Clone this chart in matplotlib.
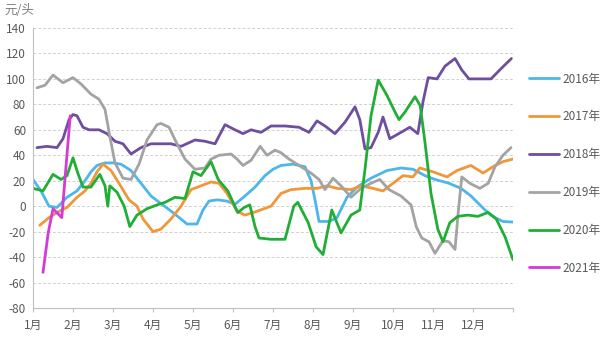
import matplotlib
matplotlib.use("Agg")
import matplotlib.pyplot as plt

plt.rcParams['font.family'] = ['Noto Sans CJK SC', 'DejaVu Sans']

# x in months since 1 Jan (0 = 1月 tick, 12 = end of year)
months = ["1月", "2月", "3月", "4月", "5月", "6月", "7月", "8月", "9月", "10月", "11月", "12月"]
y_ticks = [-80, -60, -40, -20, 0, 20, 40, 60, 80, 100, 120, 140]

x16 = [0, 0.2, 0.4, 0.6, 0.85, 1.1, 1.3, 1.45, 1.6, 1.8, 2.0, 2.2, 2.45, 2.7, 2.95, 3.2, 3.5, 3.85, 4.1, 4.25,
       4.4, 4.6, 4.85, 5.05, 5.3, 5.55, 5.8, 6.0, 6.2, 6.5, 6.8, 6.95, 7.05, 7.15, 7.4, 7.6, 7.85, 8.1, 8.45, 8.85,
       9.2, 9.5, 9.8, 10.05, 10.4, 10.7, 10.95, 11.3, 11.55, 11.75, 12.0]
y16 = [21, 12, 0, -1, 7, 12, 20, 27, 32, 34, 34, 33, 28, 18, 8, 2, -5, -14, -14, -3,
       4, 5, 4, 1.5, 8, 15, 24, 29, 32, 33, 31, 20, 5, -12, -12, -9, 7, 15, 22, 28,
       30, 29, 24, 21, 18, 14, 8, -3, -9, -12, -12.5]

x17 = [0.17, 0.4, 0.65, 0.85, 1.1, 1.3, 1.45, 1.6, 1.75, 1.95, 2.15, 2.4, 2.6, 2.75, 3.0, 3.2, 3.45, 3.7, 3.95, 4.2,
       4.45, 4.65, 4.85, 5.1, 5.3, 5.6, 5.95, 6.2, 6.45, 6.8, 7.1, 7.35, 7.6, 7.95, 8.2, 8.5, 8.75, 9.0, 9.25, 9.5,
       9.67, 10.0, 10.35, 10.6, 10.95, 11.25, 11.5, 11.75, 12.0]
y17 = [-15, -9, -4, -1, 7, 12, 18, 27, 33, 28, 18, 5, 0, -10, -20, -18, -10, 0, 13, 16,
       19, 18, 10, -4, -7, -4, 0, 10, 13, 14, 14, 16, 14, 13, 16, 14, 12, 18, 24, 23,
       30, 27, 23, 28, 32, 26, 31, 35, 37]

x18 = [0.1, 0.35, 0.6, 0.75, 0.9, 1.0, 1.1, 1.25, 1.4, 1.65, 1.85, 2.05, 2.25, 2.45, 2.7, 2.95, 3.45, 3.7, 4.05, 4.3,
       4.55, 4.8, 5.05, 5.25, 5.45, 5.7, 5.95, 6.3, 6.65, 6.9, 7.1, 7.3, 7.55, 7.8, 8.05, 8.17, 8.3, 8.45, 8.63, 8.75,
       8.92, 9.2, 9.42, 9.62, 9.75, 9.88, 10.1, 10.3, 10.55, 10.72, 10.9, 11.2, 11.45, 11.7, 11.96]
y18 = [46, 47, 46, 53, 68, 72, 71, 62, 60, 60, 57, 51, 49, 41, 46, 49, 49, 47, 52, 51,
       49, 64, 60, 57, 60, 58, 63, 63, 62, 58, 67, 63, 57, 66, 78, 68, 45, 46, 58, 70,
       53, 58, 62, 57, 82, 101, 100, 110, 116, 107, 100, 100, 100, 108, 116]

x19 = [0.1, 0.3, 0.5, 0.75, 1.0, 1.2, 1.45, 1.65, 1.8, 1.92, 2.05, 2.25, 2.45, 2.65, 2.85, 3.1, 3.2, 3.4, 3.6, 3.8,
       4.05, 4.3, 4.45, 4.65, 4.95, 5.1, 5.25, 5.45, 5.68, 5.85, 6.05, 6.2, 6.4, 6.65, 6.95, 7.15, 7.3, 7.5, 7.7, 7.95,
       8.2, 8.45, 8.67, 8.9, 9.2, 9.45, 9.58, 9.72, 9.9, 10.05, 10.25, 10.4, 10.55, 10.63, 10.72, 10.92, 11.17, 11.38,
       11.55, 11.75, 11.95]
y19 = [93, 95, 103, 97, 101, 96, 88, 84, 76, 55, 34, 22, 21, 33, 52, 64, 65, 62, 49, 37,
       29, 30, 37, 40, 41, 37, 32, 36, 47, 40, 44, 42, 37, 32, 26, 21, 13, 22, 16, 7,
       14, 18, 21, 13, 8, 1, -16, -25, -28, -37, -27, -28, -34, -5, 23, 18, 14, 18,
       31, 40, 46]

x20 = [0.0, 0.25, 0.5, 0.7, 0.85, 1.0, 1.12, 1.25, 1.45, 1.67, 1.8, 1.87, 1.92, 2.1, 2.28, 2.42, 2.6, 2.85, 3.1, 3.3,
       3.55, 3.8, 4.0, 4.2, 4.45, 4.63, 4.87, 5.12, 5.28, 5.42, 5.55, 5.65, 5.95, 6.3, 6.52, 6.62, 6.88, 7.08, 7.25, 7.47,
       7.7, 7.95, 8.17, 8.3, 8.45, 8.63, 8.85, 9.05, 9.15, 9.3, 9.55, 9.68, 9.8, 9.95, 10.12, 10.25, 10.42, 10.62,
       10.87, 11.12, 11.37, 11.58, 11.8, 12.0]
y20 = [14, 12, 25, 21, 24, 38, 26, 15, 15, 25, 16, 0, 16, 11, 0, -16, -7, -2, 1, 3,
       7, 6, 27, 24, 35, 21, 12, -5, -1, 1, -16, -25, -26, -26, 0, 3, -13, -32, -38, -3,
       -21, -7, -3, 29, 71, 99, 87, 74, 68, 74, 86, 79, 50, 10, -18, -28, -13, -8,
       -7, -8, -5, -10, -24, -42]

x21 = [0.25, 0.38, 0.5, 0.72, 0.93]
y21 = [-52, -21, -2, -9, 71]

series = [
    ("2016年", x16, y16, "#4DB6EA"),
    ("2017年", x17, y17, "#F0973A"),
    ("2018年", x18, y18, "#6E4E9E"),
    ("2019年", x19, y19, "#A3A3A3"),
    ("2020年", x20, y20, "#21AE36"),
    ("2021年", x21, y21, "#D33BD5"),
]

fig = plt.figure(figsize=(6, 3.37), dpi=100)
ax = fig.add_axes([0.055, 0.086, 0.80, 0.831])

for label, xs, ys, col in series:
    ax.plot(xs, ys, color=col, lw=2.0, label=label, solid_joinstyle="round", solid_capstyle="round")

ax.set_xlim(0, 12)
ax.set_ylim(-80, 140)
ax.set_yticks(y_ticks)
ax.set_yticklabels([str(v) for v in y_ticks])
ax.set_xticks(range(13))
ax.set_xticklabels(months + [""])
ax.tick_params(axis="y", length=0, labelsize=8.5, labelcolor="#595959", pad=5)
ax.tick_params(axis="x", length=3, color="#BFBFBF", labelsize=8.5, labelcolor="#595959", pad=5)

ax.grid(axis="y", color="#D0D0D0", linestyle=(0, (3, 2)), lw=0.7)
ax.set_axisbelow(True)
for s in ["top", "right"]:
    ax.spines[s].set_visible(False)
ax.spines["left"].set_color("#BFBFBF")
ax.spines["bottom"].set_color("#BFBFBF")

fig.text(0.008, 0.968, "元/头", fontsize=9, color="#7F7F7F", va="center", ha="left")

fig.legend(loc="center left", bbox_to_anchor=(0.872, 0.485), frameon=False, fontsize=8.5,
           handlelength=2.5, handletextpad=0.35, labelspacing=2.1, borderpad=0,
           labelcolor="#595959")

fig.savefig("out.png", dpi=100)
